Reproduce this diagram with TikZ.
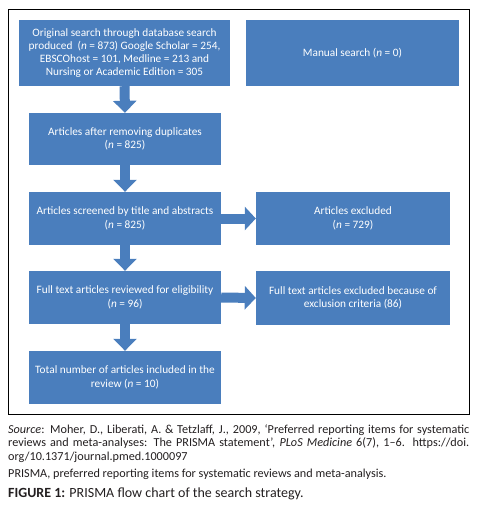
\documentclass[tikz,border=0pt]{standalone}
\usepackage{fontspec}
\setmainfont{Carlito}
\usetikzlibrary{arrows.meta}
\definecolor{boxblue}{RGB}{74,126,189}
\definecolor{captext}{RGB}{35,31,32}
\tikzset{
  box/.style={fill=boxblue, text=white, align=center, inner sep=1pt,
    font=\fontsize{11.3}{13.3}\selectfont},
  varrow/.style={draw=boxblue, line width=10pt,
    -{Triangle[width=23pt,length=12pt,fill=boxblue]}},
  harrow/.style={draw=boxblue, line width=10pt,
    -{Triangle[width=23pt,length=11pt,fill=boxblue]}},
  frame/.style={draw=black, line width=1pt},
  captxt/.style={text=captext, inner sep=0pt, anchor=north west,
    font=\fontsize{12.2}{13.6}\selectfont}
}
\begin{document}
\begin{tikzpicture}[x=1pt,y=-1pt]
\useasboundingbox (0,0) rectangle (497,516);
\draw[frame] (8,10) rectangle (469,414);
\node[box, minimum width=211pt, minimum height=66pt] (b1) at (124.5,53)
  {Original search through database search\\produced ~(\emph{n} = 873) Google Scholar = 254,\\EBSCOhost = 101, Medline = 213 and\\Nursing or Academic Edition = 305};
\node[box, minimum width=213pt, minimum height=66pt] (m1) at (352.5,53)
  {Manual search (\emph{n} = 0)};
\node[box, minimum width=192pt, minimum height=52pt] (b2) at (125,139)
  {Articles after removing duplicates\\(\emph{n} = 825)};
\node[box, minimum width=192pt, minimum height=53pt] (b3) at (125,218.5)
  {Articles screened by title and abstracts\\(\emph{n} = 825)};
\node[box, minimum width=192pt, minimum height=53pt] (b4) at (125,297.5)
  {Full text articles reviewed for eligibility\\(\emph{n} = 96)};
\node[box, minimum width=192pt, minimum height=53pt] (b5) at (125,377.5)
  {Total number of articles included in the\\review (\emph{n} = 10)};
\node[box, minimum width=194pt, minimum height=53pt] (r1) at (353,218.5)
  {Articles excluded\\(\emph{n} = 729)};
\node[box, minimum width=194pt, minimum height=54pt] (r2) at (353,298)
  {Full text articles excluded because of\\exclusion criteria (86)};
\draw[varrow] (b1.south) -- (b2.north);
\draw[varrow] (b2.south) -- (b3.north);
\draw[varrow] (b3.south) -- (b4.north);
\draw[varrow] (b4.south) -- (b5.north);
\draw[harrow] (b3.east) -- (r1.west);
\draw[harrow] (b4.east) -- (r2.west);
\node[captxt, text width=461pt, align=justify] (src) at (8,424)
  {\emph{Source}: Moher, D., Liberati, A. \& Tetzlaff, J., 2009, ‘Preferred reporting items for systematic\linebreak reviews and meta-analyses: The PRISMA statement’, \emph{PLoS Medicine} 6(7), 1–6. https://doi.\linebreak org/10.1371/journal.pmed.1000097};
\node[captxt] (abbr) at (8,469)
  {PRISMA, preferred reporting items for systematic reviews and meta-analysis.};
\node[captxt, font=\fontsize{14}{16}\selectfont] (fig) at (8,488)
  {\textbf{FIGURE 1:} PRISMA flow chart of the search strategy.};
\end{tikzpicture}
\end{document}
